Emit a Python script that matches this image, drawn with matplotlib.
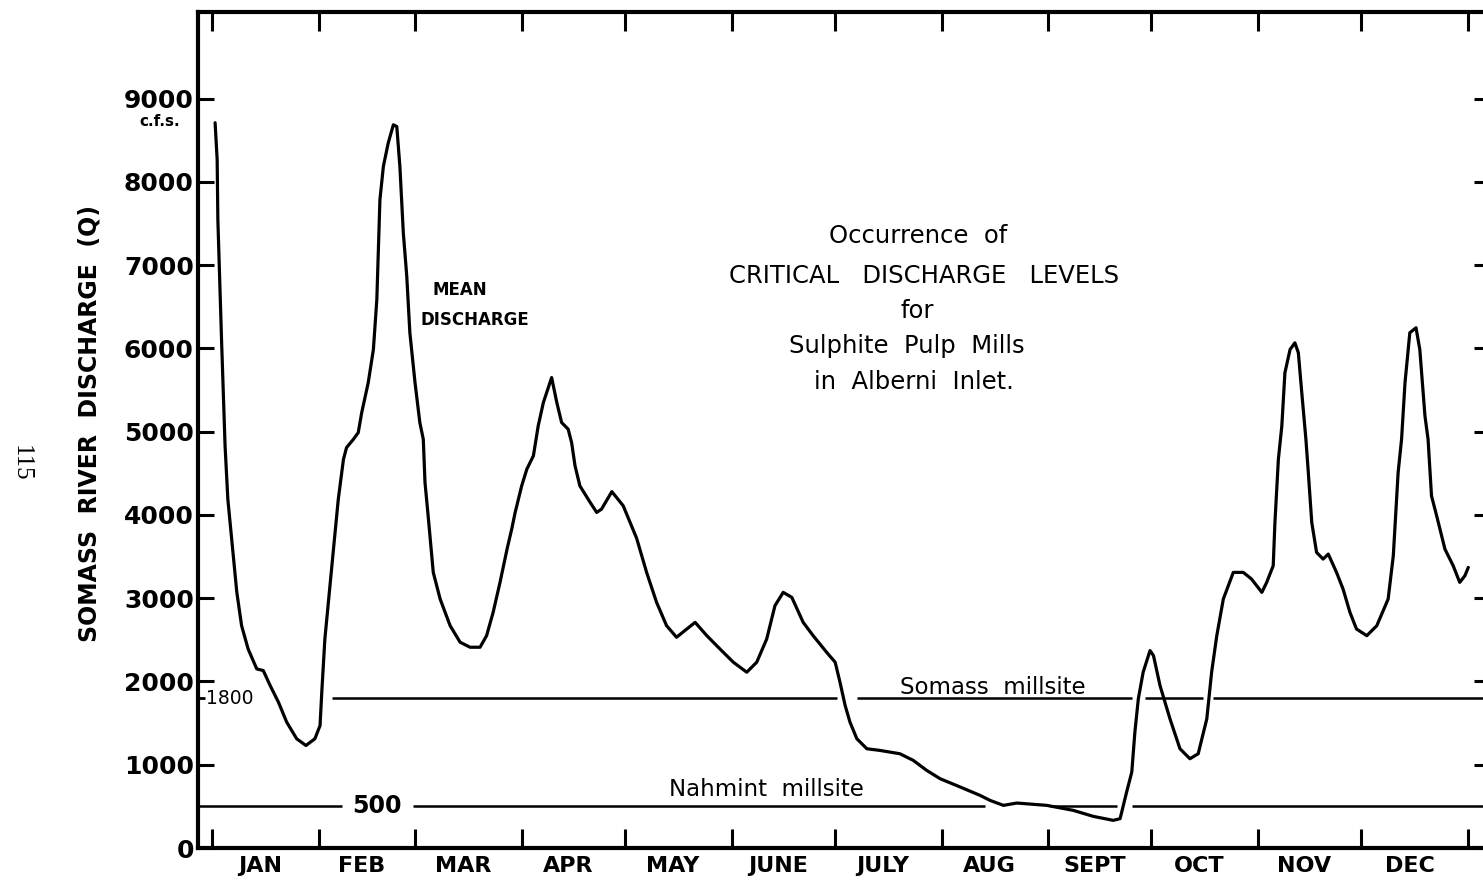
import matplotlib
matplotlib.use("Agg")
import matplotlib.pyplot as plt

plt.rcParams['font.family'] = ['DejaVu Sans']

# Mean daily discharge of the Somass River (day of year, cfs)
day = [0.9, 1.5, 1.7, 2.8, 3.8, 4.6, 7.2, 8.6, 10.5, 13.0, 14.9, 16.9, 19.3, 21.7,
       24.6, 27.3, 29.9, 31.4, 31.9, 32.8, 34.3, 35.3, 36.7, 38.2, 39.1, 41.1, 42.5,
       43.5, 45.4, 46.9, 47.9, 48.8, 49.8, 51.2, 52.7, 53.7, 54.6, 55.6, 56.6, 57.5,
       59.0, 60.4, 61.4, 61.9, 62.9, 64.3, 66.3, 69.2, 72.1, 75.0, 77.9, 79.8, 81.7,
       83.7, 85.8, 87.1, 88.1, 90.0, 91.5, 93.4, 94.8, 96.3, 98.7, 100.2, 101.6,
       103.5, 104.5, 105.5, 106.9, 109.9, 111.8, 113.2, 116.2, 119.5, 123.4, 126.3,
       129.2, 132.1, 135.0, 138.0, 140.4, 143.8, 147.6, 151.5, 155.4, 158.3, 161.2,
       163.6, 166.0, 168.5, 171.8, 174.7, 178.6, 181.1, 182.5, 184.0, 185.4, 187.4,
       190.3, 194.1, 199.9, 203.8, 207.7, 211.6, 217.4, 223.2, 226.1, 230.0, 233.9,
       242.6, 250.3, 256.1, 261.9, 263.9, 265.8, 267.3, 268.2, 269.2, 270.6, 272.6,
       273.6, 275.5, 278.4, 281.3, 284.2, 286.6, 289.1, 290.5, 292.0, 293.9, 296.8,
       299.7, 302.1, 305.1, 306.5, 308.4, 308.9, 309.9, 310.9, 311.8, 313.3, 314.7,
       315.7, 316.7, 317.9, 318.6, 319.6, 321.0, 322.9, 324.4, 326.8, 328.7, 330.7,
       332.6, 335.6, 338.5, 341.8, 343.3, 344.7, 345.7, 346.7, 348.1, 349.9, 351.0,
       352.5, 353.4, 354.4, 355.9, 358.3, 360.7, 362.6, 364.1, 365.1]
discharge = [8710, 8265, 7546, 6068, 4828, 4189, 3074, 2670, 2390, 2151, 2131, 1951,
             1752, 1512, 1312, 1231, 1312, 1471, 1871, 2510, 3150, 3590, 4189, 4668,
             4809, 4909, 4989, 5228, 5588, 5987, 6587, 7786, 8185, 8465, 8685, 8665,
             8185, 7386, 6866, 6188, 5588, 5109, 4909, 4389, 3950, 3310, 2990, 2670,
             2471, 2411, 2411, 2550, 2830, 3190, 3600, 3830, 4030, 4350, 4550, 4710,
             5070, 5350, 5650, 5350, 5110, 5030, 4870, 4590, 4350, 4150, 4030, 4070,
             4280, 4110, 3720, 3310, 2950, 2670, 2531, 2630, 2710, 2550, 2391, 2231,
             2111, 2231, 2510, 2910, 3070, 3010, 2710, 2550, 2351, 2231, 1991, 1711,
             1512, 1312, 1192, 1172, 1132, 1052, 932, 832, 733, 632, 572, 512, 540,
             512, 452, 380, 332, 352, 672, 912, 1392, 1791, 2111, 2371, 2311, 1951,
             1551, 1192, 1072, 1132, 1551, 2111, 2550, 2990, 3310, 3310, 3230, 3070,
             3190, 3390, 3910, 4669, 5068, 5708, 5987, 6067, 5948, 5468, 4909, 4509,
             3910, 3550, 3470, 3530, 3310, 3110, 2830, 2630, 2550, 2670, 2990, 3510,
             4509, 4909, 5588, 6188, 6248, 5987, 5188, 4909, 4229, 3989, 3590, 3390,
             3190, 3270, 3370]

months = ['JAN', 'FEB', 'MAR', 'APR', 'MAY', 'JUNE', 'JULY', 'AUG', 'SEPT',
          'OCT', 'NOV', 'DEC']
month_days = [31, 28, 31, 30, 31, 30, 31, 31, 30, 31, 30, 31]
y_ticks = [0, 1000, 2000, 3000, 4000, 5000, 6000, 7000, 8000, 9000]

# Critical discharge levels and the stretches where each reference line is drawn
somass_level = 1800
nahmint_level = 500
somass_spans = [(34.9, 181.5), (187.3, 267.3), (271.1, 288.0), (290.9, 375.0)]
nahmint_spans = [(-10.0, 37.8), (58.4, 224.6), (243.5, 262.9), (267.3, 375.0)]

month_starts = [0]
for d in month_days:
    month_starts.append(month_starts[-1] + d)
label_pos = [(a + b) / 2 - 1.5 for a, b in zip(month_starts[:-1], month_starts[1:])]

W, H = 1483, 881
fig = plt.figure(figsize=(W / 100, H / 100), dpi=100)
ax = fig.add_axes([198 / W, 33 / H, (1490 - 198) / W, (869 - 33) / H])
ax.set_xlim(-4.07, 371.4)
ax.set_ylim(0, 10040)

for s in ax.spines.values():
    s.set_linewidth(3.0)

# discharge curve
ax.plot(day, discharge, color='black', lw=2.3, solid_joinstyle='round',
        solid_capstyle='round', zorder=3)

# critical levels
for a, b in somass_spans:
    ax.hlines(somass_level, a, b, color='black', lw=1.8)
for a, b in nahmint_spans:
    ax.hlines(nahmint_level, a, b, color='black', lw=1.8)

# x axis: month boundaries as ticks, names centred in each month
ax.set_xticks(month_starts)
ax.set_xticklabels([])
ax.set_xticks(label_pos, minor=True)
ax.set_xticklabels(months, minor=True, fontsize=16, fontweight='bold')
ax.tick_params(axis='x', which='major', direction='in', length=13.5, width=2.2,
               top=True, bottom=True, labelbottom=False)
ax.tick_params(axis='x', which='minor', length=0, pad=6, top=False)

# y axis
ax.set_yticks(y_ticks)
ax.set_yticklabels([str(v) for v in y_ticks], fontsize=18, fontweight='bold')
ax.tick_params(axis='y', which='major', direction='in', length=11.5, width=2.2,
               left=True, right=True, pad=3)
ax.set_yticks([somass_level], minor=True)
ax.tick_params(axis='y', which='minor', direction='in', length=5, width=2.0,
               left=True, right=False, labelleft=False)

ax.text(-1.6, somass_level, str(somass_level), fontsize=13.5, ha='left',
        va='center')
ax.text(48.0, nahmint_level, str(nahmint_level), fontsize=17, fontweight='bold',
        ha='center', va='center')


def fx(px):
    return px / W


def fy(py):
    return 1 - py / H


fig.text(fx(993), fy(688), 'Somass  millsite', fontsize=16.5, ha='center', va='center')
fig.text(fx(766), fy(790), 'Nahmint  millsite', fontsize=16.5, ha='center', va='center')

fig.text(fx(160), fy(122), 'c.f.s.', fontsize=11, fontweight='bold',
         ha='center', va='center')
fig.text(fx(90), fy(424), 'SOMASS  RIVER  DISCHARGE  (Q)', fontsize=17,
         fontweight='bold', rotation=90, ha='center', va='center')

fig.text(fx(460), fy(290), 'MEAN', fontsize=12, fontweight='bold',
         ha='center', va='center')
fig.text(fx(475), fy(320), 'DISCHARGE', fontsize=12, fontweight='bold',
         ha='center', va='center')

title_lines = [('Occurrence  of', 918, 236, 17.5),
               ('CRITICAL   DISCHARGE   LEVELS', 924, 276, 17.5),
               ('for', 917, 311, 17.5),
               ('Sulphite  Pulp  Mills', 907, 346, 17.5),
               ('in  Alberni  Inlet.', 914, 382, 17.5)]
for txt, px, py, fs in title_lines:
    fig.text(fx(px), fy(py), txt, fontsize=fs, ha='center', va='center')

fig.text(fx(21), fy(463), '115', fontsize=18, family='Liberation Serif',
         rotation=-90, ha='center', va='center')

fig.savefig('out.png', dpi=100)
